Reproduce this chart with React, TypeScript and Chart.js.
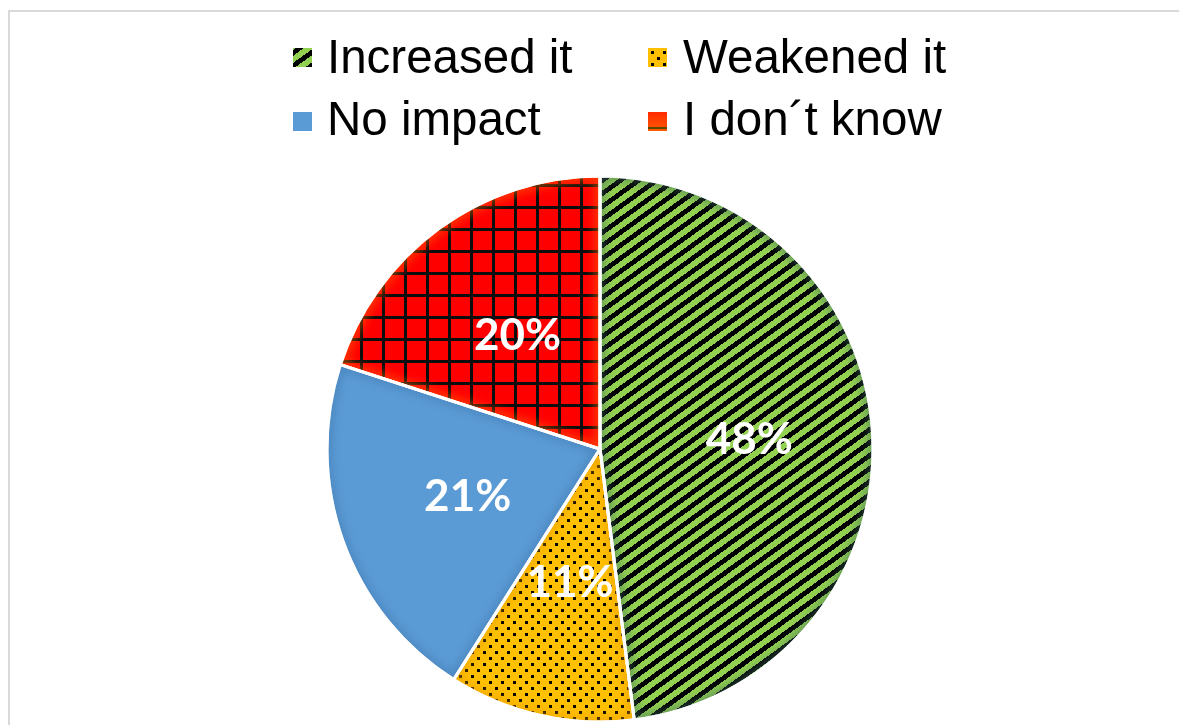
import React, { useEffect, useRef } from "react";
import { Chart, registerables } from "chart.js";

Chart.register(...registerables);

const categories = ["Increased it", "Weakened it", "No impact", "I don´t know"];
const shares = [48, 11, 21, 20];
const baseColors = ["#92D050", "#FFC000", "#5B9BD5", "#FF0000"];
const glowColors = ["#3E6A5A", "#E89A00", "#3F78B0", "#FF6A00"];

function makeTile(w: number, h: number, draw: (g: CanvasRenderingContext2D) => void) {
  const c = document.createElement("canvas");
  c.width = w;
  c.height = h;
  const g = c.getContext("2d")!;
  draw(g);
  return c;
}

function buildPatterns(ctx: CanvasRenderingContext2D) {
  const SW = 18;
  const SH = 13;
  const stripes = makeTile(SW, SH, (g) => {
    g.fillStyle = baseColors[0];
    g.fillRect(0, 0, SW, SH);
    g.fillStyle = "#000";
    for (let y = 0; y < SH; y++)
      for (let x = 0; x < SW; x++) {
        const t = (x / SW + y / SH) % 1;
        if (t < 0.45) g.fillRect(x, y, 1, 1);
      }
  });
  const dots = makeTile(12, 12, (g) => {
    g.fillStyle = baseColors[1];
    g.fillRect(0, 0, 12, 12);
    g.fillStyle = "#000";
    g.fillRect(1, 1, 3, 3);
    g.fillRect(7, 7, 3, 3);
  });
  const grid = makeTile(22, 22, (g) => {
    g.fillStyle = baseColors[3];
    g.fillRect(0, 0, 22, 22);
    g.fillStyle = "#0d0d0d";
    g.fillRect(0, 0, 3, 22);
    g.fillRect(0, 0, 22, 3);
  });
  return [
    ctx.createPattern(stripes, "repeat")!,
    ctx.createPattern(dots, "repeat")!,
    baseColors[2],
    ctx.createPattern(grid, "repeat")!,
  ];
}

export default function App() {
  const ref = useRef<HTMLCanvasElement>(null);

  useEffect(() => {
    document.body.style.overflow = "hidden";
    const canvas = ref.current!;
    const ctx0 = canvas.getContext("2d")!;
    const fills = buildPatterns(ctx0);

    const framePlugin = {
      id: "frame",
      beforeDraw(chart: any) {
        const { ctx, width, height } = chart;
        ctx.save();
        ctx.fillStyle = "#fff";
        ctx.fillRect(0, 0, width, height);
        ctx.fillStyle = "#d9d9d9";
        ctx.fillRect(0, 2, 2, height);
        ctx.fillRect(0, 2, width, 2);
        ctx.fillRect(width - 2, 2, 2, height);
        ctx.restore();
      },
    };

    const slicePlugin = {
      id: "sliceDecor",
      afterDatasetsDraw(chart: any) {
        const { ctx } = chart;
        const meta = chart.getDatasetMeta(0);
        const props = (arc: any) =>
          arc.getProps(["x", "y", "startAngle", "endAngle", "outerRadius"], true);
        ctx.save();
        meta.data.forEach((arc: any, i: number) => {
          const { x, y, startAngle, endAngle, outerRadius } = props(arc);
          ctx.save();
          ctx.beginPath();
          ctx.moveTo(x, y);
          ctx.arc(x, y, outerRadius, startAngle, endAngle);
          ctx.closePath();
          ctx.clip();
          ctx.filter = "blur(5px)";
          ctx.globalAlpha = 0.55;
          ctx.strokeStyle = glowColors[i];
          ctx.lineWidth = 10;
          ctx.stroke();
          ctx.restore();
        });
        meta.data.forEach((arc: any) => {
          const { x, y, startAngle, endAngle, outerRadius } = props(arc);
          ctx.beginPath();
          ctx.moveTo(x, y);
          ctx.arc(x, y, outerRadius, startAngle, endAngle);
          ctx.closePath();
          ctx.strokeStyle = "#fff";
          ctx.lineWidth = 3;
          ctx.lineJoin = "miter";
          ctx.stroke();
        });
        ctx.font = "bold 44px Lato";
        ctx.fillStyle = "#fff";
        ctx.textAlign = "center";
        ctx.textBaseline = "middle";
        const data = chart.data.datasets[0].data as number[];
        const total = data.reduce((a, b) => a + b, 0);
        meta.data.forEach((arc: any, i: number) => {
          const { x, y, startAngle, endAngle, outerRadius } = props(arc);
          const mid = (startAngle + endAngle) / 2;
          const d = outerRadius * (0.49 + 0.12 * (data[i] / total));
          ctx.fillText(data[i] + "%", x + Math.cos(mid) * d, y + Math.sin(mid) * d);
        });
        ctx.restore();
      },
    };

    const legendPlugin = {
      id: "gridLegend",
      afterDraw(chart: any) {
        const { ctx } = chart;
        const colX = [[285, 319], [640, 675]];
        const rowY = [[40, 65], [104, 127]];
        ctx.save();
        ctx.font = "47.5px 'Liberation Sans', Arial, sans-serif";
        ctx.textBaseline = "alphabetic";
        ctx.textAlign = "left";
        categories.forEach((label, i) => {
          const [bx, tx] = colX[i % 2];
          const [by, ty] = rowY[Math.floor(i / 2)];
          if (i === 3) {
            const g = ctx.createLinearGradient(bx, by, bx, by + 19);
            g.addColorStop(0, "#FF2A00");
            g.addColorStop(1, "#FF5A00");
            ctx.fillStyle = g;
            ctx.fillRect(bx, by, 19, 19);
            ctx.fillStyle = "#5a4a00";
            ctx.fillRect(bx, by + 15, 19, 2);
          } else {
            ctx.fillStyle = fills[i] as any;
            ctx.fillRect(bx, by, 19, 19);
          }
          ctx.fillStyle = "#000";
          ctx.fillText(label, tx, ty);
        });
        ctx.restore();
      },
    };

    const chart = new Chart(canvas, {
      type: "pie",
      data: {
        labels: categories,
        datasets: [
          {
            data: shares,
            backgroundColor: fills as any,
            borderColor: "#ffffff",
            borderWidth: 3,
            radius: 273,
            clip: false,
          } as any,
        ],
      },
      options: {
        animation: false,
        responsive: true,
        maintainAspectRatio: false,
        layout: { padding: { top: 173, bottom: 8, left: 11, right: 0 } },
        plugins: {
          legend: { display: false },
          tooltip: { enabled: false },
        },
      },
      plugins: [framePlugin, slicePlugin, legendPlugin],
    });
    return () => chart.destroy();
  }, []);

  return (
    <div style={{ width: 1173, height: 717, position: "relative" }}>
      <canvas ref={ref} />
    </div>
  );
}
